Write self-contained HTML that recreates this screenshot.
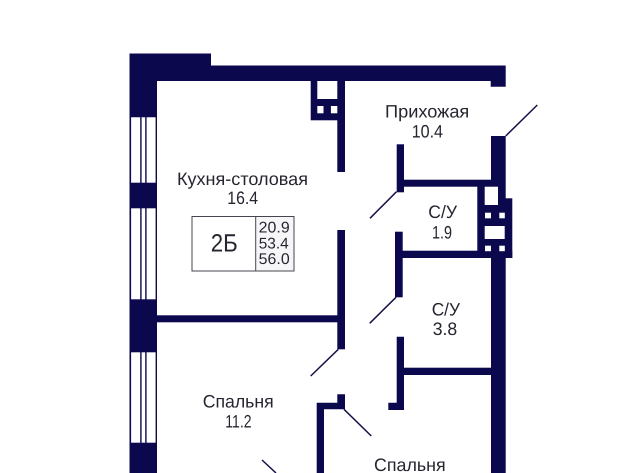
<!DOCTYPE html>
<html><head><meta charset="utf-8"><style>
html,body{margin:0;padding:0;background:#fff;width:640px;height:473px;overflow:hidden}
svg{display:block;filter:blur(.35px)}
text{font-family:"Liberation Sans",sans-serif;fill:#25252f;text-rendering:geometricPrecision}
</style></head><body>
<svg width="640" height="473" viewBox="0 0 640 473" xmlns="http://www.w3.org/2000/svg">
<rect width="640" height="473" fill="#fff"/>
<g fill="#0c084e">
<!-- left wall piers -->
<path d="M129.5 53.5H211V65.5H505.7V86.7H490.7V81H157V117.3H129.5Z"/>
<rect x="129.5" y="182.7" width="27.5" height="25.6"/>
<rect x="129.5" y="299.3" width="27.5" height="53"/>
<rect x="129.5" y="442.7" width="27.5" height="30.3"/>
<!-- windows -->
<rect x="129.5" y="117" width="1.6" height="66"/><rect x="155.6" y="117" width="1.4" height="66"/>
<rect x="140.2" y="117" width="1.4" height="66"/><rect x="145.2" y="117" width="1.4" height="66"/>
<rect x="129.5" y="208" width="1.6" height="92"/><rect x="155.6" y="208" width="1.4" height="92"/>
<rect x="140.2" y="208" width="1.4" height="92"/><rect x="145.2" y="208" width="1.4" height="92"/>
<rect x="129.5" y="352" width="1.6" height="91"/><rect x="155.6" y="352" width="1.4" height="91"/>
<rect x="140.2" y="352" width="1.4" height="91"/><rect x="145.2" y="352" width="1.4" height="91"/>
<!-- top shaft -->
<rect x="310.7" y="81" width="34.3" height="39.3"/>
<rect x="337.3" y="120" width="7.7" height="52"/>
<!-- central walls -->
<rect x="337.3" y="230" width="7.7" height="119.3"/>
<rect x="157" y="315.3" width="188" height="7"/>
<path d="M316.7 473V402.7H337.3V394.3H345V409.3H324V473Z"/>
<!-- right side -->
<rect x="491" y="136" width="14.7" height="337"/>
<rect x="396.7" y="144.3" width="7.3" height="48"/>
<rect x="404" y="179.7" width="87" height="7"/>
<rect x="395" y="231.7" width="7.7" height="65.6"/>
<rect x="402" y="250.7" width="110.3" height="7.3"/>
<path d="M396.7 336.7H404V410H388.3V402.7H396.7Z"/>
<rect x="404" y="367.7" width="87" height="7.3"/>
<!-- right shaft -->
<rect x="477.3" y="186" width="28" height="72"/>
<rect x="505" y="198.3" width="7.3" height="59.7"/>
</g>
<g fill="#fff">
<rect x="317.3" y="81" width="20" height="18"/>
<rect x="317.3" y="106" width="6.2" height="7.3"/>
<rect x="330.9" y="106" width="6.4" height="7.3"/>
<rect x="484.7" y="186.7" width="13.3" height="18.3"/>
<rect x="485" y="212.7" width="6" height="5.6"/>
<rect x="499.3" y="212.7" width="5.5" height="5.6"/>
<rect x="484.7" y="226" width="20" height="13"/>
<rect x="485" y="245.7" width="6" height="5.5"/>
<rect x="499.3" y="245.7" width="5.5" height="5.5"/>
</g>
<!-- door swings -->
<g stroke="#14114a" stroke-width="1.5" fill="none">
<line x1="505.7" y1="136" x2="537.3" y2="105"/>
<line x1="396.5" y1="191.7" x2="370" y2="218.3"/>
<line x1="396" y1="297.3" x2="369.7" y2="323.3"/>
<line x1="338.3" y1="349.3" x2="310.7" y2="376"/>
<line x1="344" y1="409.3" x2="371.3" y2="436"/>
<line x1="262" y1="460" x2="276" y2="473"/>
</g>
<!-- info box -->
<rect x="256" y="216.5" width="38" height="54.5" fill="#f6f6f9"/>
<rect x="192" y="216.5" width="102" height="54.5" fill="none" stroke="#45454f" stroke-width="1"/>
<line x1="255.7" y1="216" x2="255.7" y2="271" stroke="#45454f" stroke-width="1"/>
<!-- labels -->
<text x="177" y="185" font-size="18" textLength="131" lengthAdjust="spacingAndGlyphs">Кухня-столовая</text>
<text x="227.3" y="204" font-size="18" textLength="30.7" lengthAdjust="spacingAndGlyphs">16.4</text>
<text x="210.7" y="251.7" font-size="25" textLength="27" lengthAdjust="spacingAndGlyphs">2Б</text>
<text x="258.7" y="232.3" font-size="15.5" textLength="31" lengthAdjust="spacingAndGlyphs">20.9</text>
<text x="258.7" y="248.6" font-size="15.5" textLength="30" lengthAdjust="spacingAndGlyphs">53.4</text>
<text x="258.7" y="264" font-size="15.5" textLength="31" lengthAdjust="spacingAndGlyphs">56.0</text>
<text x="385" y="117.7" font-size="18" textLength="84.3" lengthAdjust="spacingAndGlyphs">Прихожая</text>
<text x="411.7" y="137.3" font-size="18" textLength="31.3" lengthAdjust="spacingAndGlyphs">10.4</text>
<text x="428.3" y="218" font-size="18" textLength="28.7" lengthAdjust="spacingAndGlyphs">С/У</text>
<text x="432" y="238.3" font-size="18" textLength="20" lengthAdjust="spacingAndGlyphs">1.9</text>
<text x="431.7" y="315.7" font-size="18" textLength="28.3" lengthAdjust="spacingAndGlyphs">С/У</text>
<text x="432.7" y="335" font-size="18" textLength="24.5" lengthAdjust="spacingAndGlyphs">3.8</text>
<text x="202.7" y="407.7" font-size="18" textLength="71" lengthAdjust="spacingAndGlyphs">Спальня</text>
<text x="225.3" y="427.3" font-size="18" textLength="26.2" lengthAdjust="spacingAndGlyphs">11.2</text>
<text x="374" y="471" font-size="18" textLength="71.7" lengthAdjust="spacingAndGlyphs">Спальня</text>
</svg>
</body></html>
